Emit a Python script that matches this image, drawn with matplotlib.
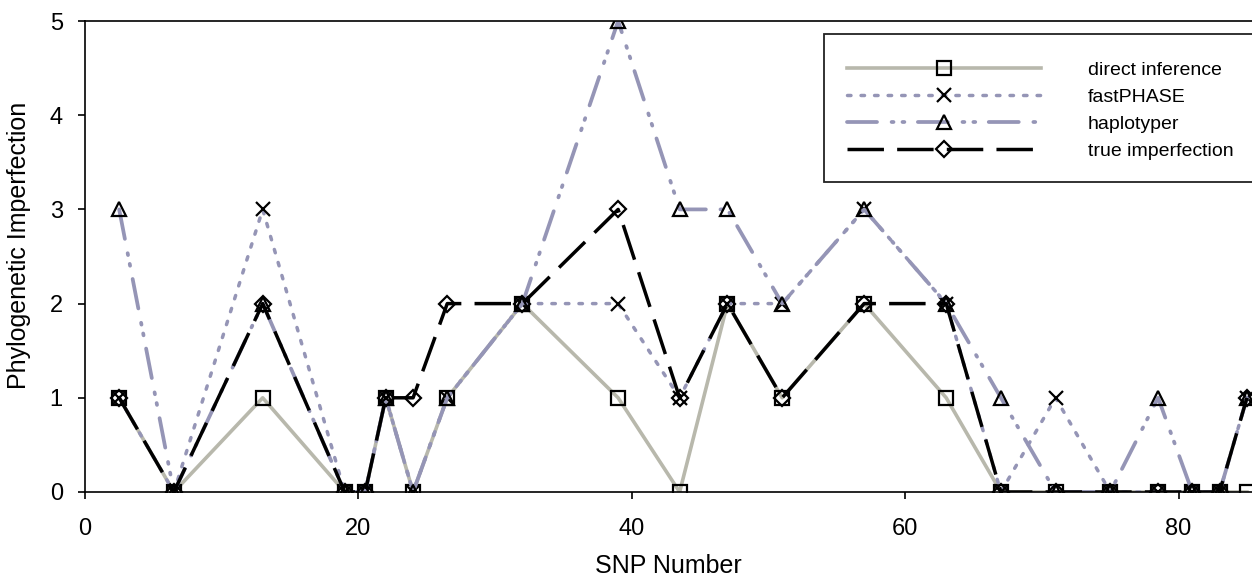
import matplotlib
matplotlib.use("Agg")
import matplotlib.pyplot as plt
from matplotlib.patches import Rectangle

plt.rcParams['font.family'] = ['Liberation Sans', 'DejaVu Sans']

# SNP positions and imperfection values
snp = [2.5, 6.5, 13, 19, 20.5, 22, 24, 26.5, 32, 39, 43.5,
       47, 51, 57, 63, 67, 71, 75, 78.5, 81, 83, 85]
direct_inference = [1, 0, 1, 0, 0, 1, 0, 1, 2, 1, 0,
                    2, 1, 2, 1, 0, 0, 0, 0, 0, 0, 0]
fastphase = [1, 0, 3, 0, 0, 1, 0, 1, 2, 2, 1,
             2, 2, 3, 2, 0, 1, 0, 0, 0, 0, 1]
haplotyper = [3, 0, 2, 0, 0, 1, 0, 1, 2, 5, 3,
              3, 2, 3, 2, 1, 0, 0, 1, 0, 0, 1]
true_imperfection = [1, 0, 2, 0, 0, 1, 1, 2, 2, 3, 1,
                     2, 1, 2, 2, 0, 0, 0, 0, 0, 0, 1]

x_ticks = [0, 20, 40, 60, 80]
y_ticks = [0, 1, 2, 3, 4, 5]

gray = '#b8b8ac'
lavender = '#9595b6'

W, H = 1252, 577
fig = plt.figure(figsize=(W / 100, H / 100), dpi=100)
# plot area: x from 85 px to the right edge, y from 21 px to 492 px
ax = fig.add_axes([85 / W, (H - 492) / H, (W - 85) / W, 471 / H])

lw = 2.5
ax.plot(snp, direct_inference, color=gray, lw=2.6, linestyle='-',
        marker='s', ms=9.5, mfc='none', mec='black', mew=1.6,
        label='direct inference')
ax.plot(snp, fastphase, color=lavender, lw=lw, linestyle=(0, (1, 2.9)),
        dash_capstyle='round',
        marker='x', ms=9.5, mec='black', mew=1.6, label='fastPHASE')
ax.plot(snp, haplotyper, color=lavender, lw=2.7,
        linestyle=(0, (8, 3.9, 0.5, 2.4, 0.5, 3.6)), dash_capstyle='round',
        marker='^', ms=10.5, mfc='none', mec='black', mew=1.6,
        label='haplotyper')
ax.plot(snp, true_imperfection, color='black', lw=lw,
        linestyle=(0, (10.5, 3.8)),
        marker='D', ms=8, mfc='none', mec='black', mew=1.6,
        label='true imperfection')

ax.set_xlim(0, (W - 85) / 13.67)
ax.set_ylim(0, 5)
ax.set_xticks(x_ticks)
ax.set_yticks(y_ticks)
ax.tick_params(axis='both', direction='out', length=5, width=1.2,
               labelsize=17)
ax.tick_params(axis='x', pad=14)
ax.tick_params(axis='y', pad=11)
ax.spines['right'].set_visible(False)
for s in ['left', 'bottom', 'top']:
    ax.spines[s].set_linewidth(1.2)

ax.set_xlabel('SNP Number', fontsize=18, labelpad=10)
ax.set_ylabel('Phylogenetic Imperfection', fontsize=18)
ax.yaxis.set_label_coords(-0.046, 0.524)

leg = ax.legend(loc='upper left', bbox_to_anchor=(847 / W, 1 - 61 / H),
                bbox_transform=fig.transFigure, frameon=False, fontsize=14,
                handlelength=10, handletextpad=2.4, labelspacing=0.49,
                borderpad=0, borderaxespad=0, numpoints=1)
leg.set_zorder(6)

box = Rectangle((824 / W, 1 - 182 / H), 0.4, 148 / H,
                transform=fig.transFigure, facecolor='white',
                edgecolor='#222222', lw=1.3, clip_on=False, zorder=5)
ax.add_patch(box)

fig.savefig('out.png', dpi=100)
